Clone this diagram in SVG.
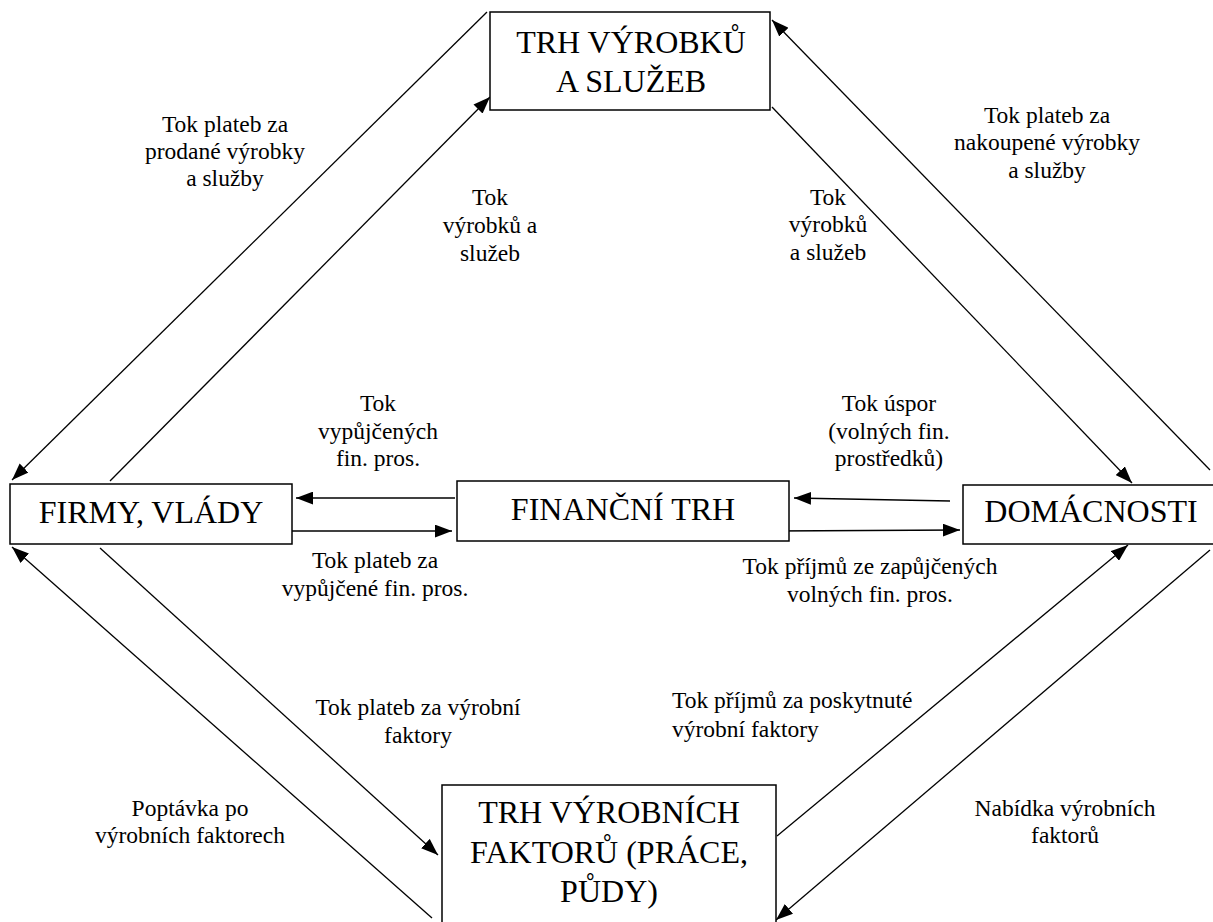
<svg xmlns="http://www.w3.org/2000/svg" width="1213" height="922" viewBox="0 0 1213 922">
<style>
.box{fill:#fff;stroke:#000;stroke-width:1.5}
text{font-family:'Liberation Serif','Times New Roman',Times,'DejaVu Serif',serif}
.big{font-size:32px;fill:#000;text-anchor:middle}
.lbl{font-size:23.5px;fill:#000;text-anchor:middle}
.lbl-l{text-anchor:start}
.conn line{stroke:#000;stroke-width:1.3;fill:none}
</style>
<defs>
<marker id="ah" viewBox="0 0 16 12" refX="16" refY="6" markerWidth="17" markerHeight="13" markerUnits="userSpaceOnUse" orient="auto">
<path d="M0,0 L16,6 L0,12 z" fill="#000"/>
</marker>
</defs>
<rect width="1213" height="922" fill="#fff"/>
<g class="conn">
<line x1="487" y1="12" x2="12" y2="480" marker-end="url(#ah)"/>
<line x1="110" y1="481" x2="490" y2="97" marker-end="url(#ah)"/>
<line x1="772" y1="107" x2="1132" y2="483" marker-end="url(#ah)"/>
<line x1="1210" y1="470" x2="772" y2="20" marker-end="url(#ah)"/>
<line x1="455" y1="498" x2="296" y2="498" marker-end="url(#ah)"/>
<line x1="292" y1="531" x2="452" y2="531" marker-end="url(#ah)"/>
<line x1="950" y1="501" x2="794" y2="498" marker-end="url(#ah)"/>
<line x1="773" y1="531" x2="960" y2="530" marker-end="url(#ah)"/>
<line x1="100" y1="548" x2="438" y2="855" marker-end="url(#ah)"/>
<line x1="432" y1="918" x2="12" y2="547" marker-end="url(#ah)"/>
<line x1="777" y1="836" x2="1128" y2="545" marker-end="url(#ah)"/>
<line x1="1210" y1="550" x2="776" y2="920" marker-end="url(#ah)"/>
</g>
<g id="trh-vyrobku">
<rect class="box" x="490" y="12" width="280" height="98"/>
<text class="big" x="631" y="53" font-family="Liberation Serif">TRH VÝROBKŮ</text>
<text class="big" x="631" y="92" font-family="Liberation Serif">A SLUŽEB</text>
</g>
<g id="firmy">
<rect class="box" x="10" y="484" width="282" height="60"/>
<text class="big" x="151" y="523">FIRMY, VLÁDY</text>
</g>
<g id="financni-trh">
<rect class="box" x="457" y="481" width="332" height="60"/>
<text class="big" x="623" y="520">FINANČNÍ TRH</text>
</g>
<g id="domacnosti">
<rect class="box" x="963" y="485" width="260" height="59"/>
<text class="big" x="1091" y="522">DOMÁCNOSTI</text>
</g>
<g id="trh-faktoru">
<rect class="box" x="442" y="785" width="334" height="150"/>
<text class="big" x="609" y="823">TRH VÝROBNÍCH</text>
<text class="big" x="609" y="863">FAKTORŮ (PRÁCE,</text>
<text class="big" x="609" y="902">PŮDY)</text>
</g>
<g id="labels">
<text class="lbl" x="225" y="132">Tok plateb za</text>
<text class="lbl" x="225" y="159">prodané výrobky</text>
<text class="lbl" x="225" y="186">a služby</text>
<text class="lbl" x="490" y="205">Tok</text>
<text class="lbl" x="490" y="233">výrobků a</text>
<text class="lbl" x="490" y="261">služeb</text>
<text class="lbl" x="828" y="205">Tok</text>
<text class="lbl" x="828" y="232">výrobků</text>
<text class="lbl" x="828" y="260">a služeb</text>
<text class="lbl" x="1047" y="123">Tok plateb za</text>
<text class="lbl" x="1047" y="150">nakoupené výrobky</text>
<text class="lbl" x="1047" y="178">a služby</text>
<text class="lbl" x="378" y="411">Tok</text>
<text class="lbl" x="378" y="439">vypůjčených</text>
<text class="lbl" x="378" y="466">fin. pros.</text>
<text class="lbl" x="889" y="411">Tok úspor</text>
<text class="lbl" x="889" y="439">(volných fin.</text>
<text class="lbl" x="889" y="466">prostředků)</text>
<text class="lbl" x="375" y="568">Tok plateb za</text>
<text class="lbl" x="375" y="596">vypůjčené fin. pros.</text>
<text class="lbl" x="870" y="574">Tok příjmů ze zapůjčených</text>
<text class="lbl" x="870" y="602">volných fin. pros.</text>
<text class="lbl" x="418" y="715">Tok plateb za výrobní</text>
<text class="lbl" x="418" y="743">faktory</text>
<text class="lbl lbl-l" x="672" y="708">Tok příjmů za poskytnuté</text>
<text class="lbl lbl-l" x="672" y="737">výrobní faktory</text>
<text class="lbl" x="190" y="816">Poptávka po</text>
<text class="lbl" x="190" y="843">výrobních faktorech</text>
<text class="lbl" x="1065" y="816">Nabídka výrobních</text>
<text class="lbl" x="1065" y="843">faktorů</text>
</g>
</svg>
